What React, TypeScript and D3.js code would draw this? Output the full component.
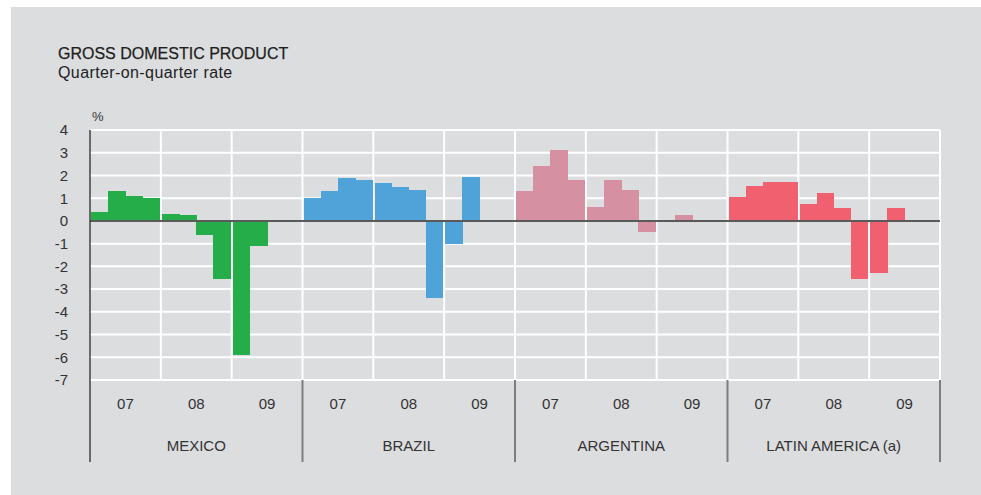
import React from "react";
import * as d3 from "d3";

const countries = ["MEXICO", "BRAZIL", "ARGENTINA", "LATIN AMERICA (a)"];
const years = ["07", "08", "09"];
const quarters = ["Q1", "Q2", "Q3", "Q4"];
const yTicks = [4, 3, 2, 1, 0, -1, -2, -3, -4, -5, -6, -7];

const mexico = [0.4, 1.3, 1.1, 1.0, 0.3, 0.25, -0.6, -2.55, -5.9, -1.1, null, null];
const brazil = [1.0, 1.3, 1.9, 1.8, 1.65, 1.5, 1.35, -3.4, -1.0, 1.95, null, null];
const argentina = [1.3, 2.4, 3.1, 1.8, 0.6, 1.8, 1.35, -0.5, 0.05, 0.25, null, null];
const latinAmerica = [1.05, 1.55, 1.72, 1.72, 0.75, 1.25, 0.55, -2.55, -2.3, 0.55, null, null];

const seriesValues = [mexico, brazil, argentina, latinAmerica];
const colors = ["#25ad4a", "#50a3d9", "#d591a2", "#f0606f"];

const W = 981;
const H = 495;
const left = 90;
const right = 940;
const top = 130;
const bottom = 380;
const lowerBottom = 462;
const font = "'Liberation Sans', Arial, Helvetica, sans-serif";
const textColor = "#333";

export default function App() {
  const y = d3.scaleLinear().domain([-7, 4]).range([bottom, top]);
  const xPanel = d3.scaleBand<string>().domain(countries).range([left, right]).padding(0);
  const pw = xPanel.bandwidth();
  const xYear = d3.scaleBand<string>().domain(years).range([0, pw]).padding(0);
  const yw = xYear.bandwidth();
  const xQ = d3.scaleBand<string>().domain(quarters).range([0, yw]).paddingInner(0).paddingOuter(0.07);

  const yearLines: number[] = [];
  countries.forEach((c) => {
    years.forEach((yr, i) => {
      const xx = (xPanel(c) as number) + (xYear(yr) as number);
      if (!(c === countries[0] && i === 0)) yearLines.push(xx);
    });
  });
  yearLines.push(right);

  const panelSeps = countries.slice(1).map((c) => xPanel(c) as number).concat([right]);

  return (
    <div style={{ position: "fixed", left: 0, top: 0 }}>
      <svg width={W} height={H} style={{ display: "block" }}>
        <rect x={0} y={0} width={W} height={H} fill="#ffffff" />
        <rect x={11} y={7} width={W - 11} height={H - 7} fill="#dcdddf" />

        <text x={58} y={59} fontFamily={font} fontSize={16} fill="#1e1e1e" stroke="#1e1e1e" strokeWidth={0.25}>
          GROSS DOMESTIC PRODUCT
        </text>
        <text x={58} y={78} fontFamily={font} fontSize={16} letterSpacing={0.4} fill="#1e1e1e">
          Quarter-on-quarter rate
        </text>
        <text x={92} y={121} fontFamily={font} fontSize={13} fill={textColor}>
          %
        </text>

        {/* horizontal gridlines */}
        {yTicks.map((t) => (
          <line key={"h" + t} x1={left} x2={right} y1={y(t)} y2={y(t)} stroke="#ffffff" strokeWidth={2} />
        ))}
        {/* vertical gridlines */}
        {yearLines.map((xx, i) => (
          <line key={"v" + i} x1={xx} x2={xx} y1={top} y2={bottom} stroke="#ffffff" strokeWidth={2} />
        ))}

        {/* bars */}
        <g shapeRendering="crispEdges">
          {countries.map((c, ci) =>
            seriesValues[ci].map((v, k) => {
              if (v === null || v === undefined) return null;
              const yr = years[Math.floor(k / 4)];
              const q = quarters[k % 4];
              const x0 = (xPanel(c) as number) + (xYear(yr) as number) + (xQ(q) as number);
              const y0 = y(Math.max(0, v));
              const h = Math.abs(y(v) - y(0));
              return (
                <rect key={c + k} x={x0} y={y0} width={xQ.bandwidth() + 0.5} height={h} fill={colors[ci]} />
              );
            })
          )}
        </g>

        {/* zero line */}
        <line x1={left} x2={right} y1={y(0)} y2={y(0)} stroke="#5a5a5a" strokeWidth={2} />

        {/* y tick labels */}
        {yTicks.map((t) => (
          <text
            key={"t" + t}
            x={68}
            y={y(t)}
            dy="0.36em"
            textAnchor="end"
            fontFamily={font}
            fontSize={15}
            fill={textColor}
          >
            {t}
          </text>
        ))}

        {/* panel separators below plot */}
        {panelSeps.map((xx, i) => (
          <line key={"s" + i} x1={xx} x2={xx} y1={bottom} y2={lowerBottom} stroke="#7d7d7d" strokeWidth={2} />
        ))}
        {/* left axis */}
        <line x1={left} x2={left} y1={top} y2={lowerBottom} stroke="#2a2a2a" strokeWidth={1.3} />

        {/* year labels */}
        {countries.map((c) =>
          years.map((yr) => (
            <text
              key={c + yr}
              x={(xPanel(c) as number) + (xYear(yr) as number) + yw / 2}
              y={409}
              textAnchor="middle"
              fontFamily={font}
              fontSize={15}
              fill={textColor}
            >
              {yr}
            </text>
          ))
        )}
        {/* country labels */}
        {countries.map((c) => (
          <text
            key={"c" + c}
            x={(xPanel(c) as number) + pw / 2}
            y={450.5}
            textAnchor="middle"
            fontFamily={font}
            fontSize={15}
            fill={textColor}
          >
            {c}
          </text>
        ))}
      </svg>
    </div>
  );
}
